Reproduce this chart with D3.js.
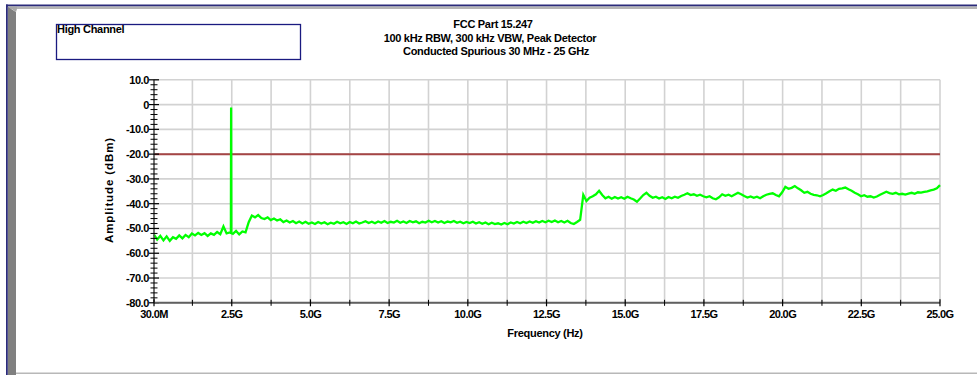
<!DOCTYPE html>
<html>
<head>
<meta charset="utf-8">
<script src="https://cdn.jsdelivr.net/npm/d3@7"></script>
<style>
  html, body { margin: 0; padding: 0; background: #ffffff; }
  svg { display: block; }
  text { font-family: "Liberation Sans", Arial, sans-serif; font-weight: bold; fill: #000; }
</style>
</head>
<body>
<svg id="chart" width="977" height="375"></svg>
<script>
// ---------------- data ----------------
const titleLines = ["FCC Part 15.247", "100 kHz RBW, 300 kHz VBW, Peak Detector", "Conducted Spurious 30 MHz - 25 GHz"];
const legendText = "High Channel";
const xAxisTitle = "Frequency (Hz)";
const yAxisTitle = "Amplitude (dBm)";

// sweep (Hz)
const sweepStartHz = 30e6;
const sweepStopHz = 25e9;

// x tick values (Hz) and labels
const xMajorTicks = [30e6, 2.5e9, 5e9, 7.5e9, 10e9, 12.5e9, 15e9, 17.5e9, 20e9, 22.5e9, 25e9];
const xMajorLabels = ["30.0M", "2.5G", "5.0G", "7.5G", "10.0G", "12.5G", "15.0G", "17.5G", "20.0G", "22.5G", "25.0G"];
const xMinorTicks = [1.25e9, 3.75e9, 6.25e9, 8.75e9, 11.25e9, 13.75e9, 16.25e9, 18.75e9, 21.25e9, 23.75e9];

// y tick values (dBm) and labels
const yMajorTicks = [10, 0, -10, -20, -30, -40, -50, -60, -70, -80];
const yMajorLabels = ["10.0", "0", "-10.0", "-20.0", "-30.0", "-40.0", "-50.0", "-60.0", "-70.0", "-80.0"];
const yMinorTicks = [8, 6, 4, 2, -2, -4, -6, -8, -12, -14, -16, -18, -22, -24, -26, -28, -32, -34, -36, -38,
  -42, -44, -46, -48, -52, -54, -56, -58, -62, -64, -66, -68, -72, -74, -76, -78];

// limit line (dBm)
const limitDbm = -20;

// measured trace: 250 sweep points, evenly spaced from sweepStartHz to sweepStopHz (dBm)
const traceDbm = [
  -52.5,-54.5,-53.0,-54.8,-53.2,-55.0,-53.5,-54.2,-52.8,-54.0,
  -52.6,-53.5,-52.0,-52.8,-51.8,-52.6,-51.9,-53.0,-52.0,-52.6,
  -51.4,-52.3,-49.2,-52.0,-51.6,-52.2,-51.0,-52.4,-51.2,-51.6,
  -47.5,-44.8,-45.5,-44.6,-45.8,-46.2,-45.5,-46.6,-46.0,-46.8,
  -46.3,-47.4,-46.8,-47.6,-47.0,-47.9,-47.2,-48.0,-47.3,-48.1,
  -47.6,-48.2,-47.4,-48.0,-47.5,-48.3,-47.7,-48.1,-47.3,-47.9,
  -47.5,-48.2,-47.4,-47.9,-47.2,-48.0,-47.6,-47.1,-47.8,-47.3,
  -47.9,-47.2,-47.7,-47.0,-47.8,-47.3,-47.6,-46.9,-47.7,-47.2,
  -47.8,-47.0,-47.5,-47.1,-47.9,-47.3,-47.6,-46.9,-47.5,-47.0,
  -47.6,-47.1,-47.8,-47.2,-47.5,-47.0,-47.7,-47.3,-47.9,-47.4,
  -47.8,-47.3,-48.0,-47.5,-48.1,-47.6,-48.3,-47.7,-48.2,-47.9,
  -48.4,-47.8,-48.3,-47.6,-48.0,-47.4,-47.9,-47.3,-47.8,-47.2,
  -47.7,-47.1,-47.6,-47.0,-47.5,-46.9,-47.4,-46.8,-47.5,-47.0,
  -47.6,-46.9,-47.8,-48.2,-47.4,-46.5,-36.4,-38.9,-37.6,-37.0,
  -36.2,-34.8,-36.5,-37.8,-37.2,-38.0,-37.3,-37.9,-37.4,-38.0,
  -37.2,-37.8,-38.3,-39.2,-37.9,-36.5,-35.6,-36.8,-37.6,-37.2,
  -37.9,-37.4,-38.1,-37.3,-37.8,-37.2,-37.6,-36.9,-36.4,-35.8,
  -36.5,-36.2,-36.8,-36.4,-37.0,-37.4,-37.0,-37.8,-38.2,-37.4,
  -36.2,-36.8,-36.4,-37.0,-36.3,-35.6,-36.2,-36.9,-37.5,-37.1,
  -37.6,-37.2,-37.8,-37.0,-36.4,-36.0,-35.8,-36.5,-37.0,-35.4,
  -33.2,-34.0,-33.6,-32.9,-33.8,-34.6,-35.6,-35.2,-36.0,-36.4,
  -36.6,-37.0,-36.5,-35.8,-35.0,-34.3,-34.8,-34.0,-33.8,-33.5,
  -34.2,-34.8,-35.6,-36.2,-37.0,-36.6,-37.2,-37.0,-37.5,-37.1,
  -36.4,-35.8,-35.2,-35.7,-36.0,-35.6,-36.2,-36.0,-36.3,-35.9,
  -35.6,-36.0,-35.4,-35.5,-35.2,-35.0,-34.6,-34.3,-33.8,-32.5
];

// carrier (high channel) emission
const carrierHz = [2.472e9, 2.480e9, 2.488e9];
const carrierDbm = [-51.8, -1.2, -51.8];

// ---------------- drawing ----------------
const svg = d3.select("#chart");

// window frame
svg.append("rect").attr("x", 0).attr("y", 0).attr("width", 977).attr("height", 375).attr("fill", "#ffffff");
svg.append("rect").attr("x", 6).attr("y", 4.5).attr("width", 971).attr("height", 2).attr("fill", "#2b2b7a");
svg.append("rect").attr("x", 8).attr("y", 6.5).attr("width", 969).attr("height", 2.5).attr("fill", "#b4b4b4");
svg.append("rect").attr("x", 6).attr("y", 4.5).attr("width", 1.8).attr("height", 371).attr("fill", "#2b2b7a");
svg.append("polygon").attr("points", "8,7 16,12 16,375 8,375").attr("fill", "#808080");
svg.append("polygon").attr("points", "8,6.5 17,6.5 17,9 16,12").attr("fill", "#a8a8a8");
svg.append("rect").attr("x", 16).attr("y", 372.5).attr("width", 961).attr("height", 1.5).attr("fill", "#b8b8b8");

// legend box
svg.append("rect").attr("x", 56.5).attr("y", 24.5).attr("width", 244).attr("height", 35)
  .attr("fill", "none").attr("stroke", "#1a1a80").attr("stroke-width", 1.3);
svg.append("text").attr("x", 57).attr("y", 33).attr("font-size", 11).attr("letter-spacing", -0.3).text(legendText);

// titles
const titleY = [28, 41.5, 55];
const titleX = [493, 490, 496];
titleLines.forEach((t, i) => {
  svg.append("text").attr("x", titleX[i]).attr("y", titleY[i]).attr("text-anchor", "middle")
    .attr("font-size", 11).attr("letter-spacing", -0.3).text(t);
});

// scales
const x = d3.scaleLinear().domain([sweepStartHz, sweepStopHz]).range([154, 940]);
const y = d3.scaleLinear().domain([10, -80]).range([79.8, 302.8]);

// gridlines
const grid = svg.append("g");
grid.selectAll("line.vg").data(xMajorTicks.concat(xMinorTicks)).join("line")
  .attr("x1", d => x(d)).attr("x2", d => x(d)).attr("y1", y(10)).attr("y2", y(-80))
  .attr("stroke", "#d2d2d2").attr("stroke-width", 1.6);
grid.selectAll("line.hg").data(yMajorTicks).join("line")
  .attr("x1", x(sweepStartHz)).attr("x2", x(sweepStopHz)).attr("y1", d => y(d)).attr("y2", d => y(d))
  .attr("stroke", "#d2d2d2").attr("stroke-width", 1.6);

// limit line
svg.append("line").attr("x1", x(sweepStartHz)).attr("x2", x(sweepStopHz))
  .attr("y1", y(limitDbm)).attr("y2", y(limitDbm))
  .attr("stroke", "#a54545").attr("stroke-width", 2);

// trace
const n = traceDbm.length;
const tracePts = traceDbm.map((v, i) => [sweepStartHz + i * (sweepStopHz - sweepStartHz) / (n - 1), v]);
carrierHz.forEach((f, i) => tracePts.push([f, carrierDbm[i]]));
tracePts.sort((a, b) => a[0] - b[0]);
const line = d3.line().x(d => x(d[0])).y(d => y(d[1]));
svg.append("path").attr("d", line(tracePts)).attr("fill", "none")
  .attr("stroke", "#00ff00").attr("stroke-width", 2.3).attr("stroke-linejoin", "miter");

// y axis
const yAxisG = svg.append("g").attr("transform", `translate(${x(sweepStartHz)},0)`);
yAxisG.append("line").attr("x1", 0).attr("x2", 0).attr("y1", y(10)).attr("y2", y(-80))
  .attr("stroke", "#505050").attr("stroke-width", 1.5);
yAxisG.selectAll("line.ymaj").data(yMajorTicks).join("line")
  .attr("x1", -5).attr("x2", 5).attr("y1", d => y(d)).attr("y2", d => y(d))
  .attr("stroke", "#000").attr("stroke-width", 1.2);
yAxisG.selectAll("line.ymin").data(yMinorTicks).join("line")
  .attr("x1", -3.5).attr("x2", 3.5).attr("y1", d => y(d)).attr("y2", d => y(d))
  .attr("stroke", "#000").attr("stroke-width", 1);
yAxisG.selectAll("text.ylab").data(yMajorTicks).join("text")
  .attr("x", -5).attr("y", d => y(d) + 4).attr("text-anchor", "end")
  .attr("font-size", 11).attr("letter-spacing", -0.4)
  .text((d, i) => yMajorLabels[i]);

// x axis
const xAxisG = svg.append("g").attr("transform", `translate(0,${y(-80)})`);
xAxisG.append("line").attr("x1", x(sweepStartHz)).attr("x2", x(sweepStopHz)).attr("y1", 0).attr("y2", 0)
  .attr("stroke", "#606060").attr("stroke-width", 2);
xAxisG.selectAll("line.xmaj").data(xMajorTicks).join("line")
  .attr("x1", d => x(d)).attr("x2", d => x(d)).attr("y1", -3.5).attr("y2", 3.5)
  .attr("stroke", "#000").attr("stroke-width", 1.2);
xAxisG.selectAll("line.xmin").data(xMinorTicks).join("line")
  .attr("x1", d => x(d)).attr("x2", d => x(d)).attr("y1", -3).attr("y2", 3)
  .attr("stroke", "#000").attr("stroke-width", 1);
xAxisG.selectAll("text.xlab").data(xMajorTicks).join("text")
  .attr("x", d => x(d)).attr("y", 15).attr("text-anchor", "middle")
  .attr("font-size", 11).attr("letter-spacing", -0.6)
  .text((d, i) => xMajorLabels[i]);

// axis titles
svg.append("text").attr("x", 545).attr("y", 337).attr("text-anchor", "middle")
  .attr("font-size", 11).attr("letter-spacing", -0.3).text(xAxisTitle);
svg.append("text").attr("transform", "translate(113,190) rotate(-90)").attr("text-anchor", "middle")
  .attr("font-size", 11.5).attr("letter-spacing", 0.9).text(yAxisTitle);
</script>
</body>
</html>
